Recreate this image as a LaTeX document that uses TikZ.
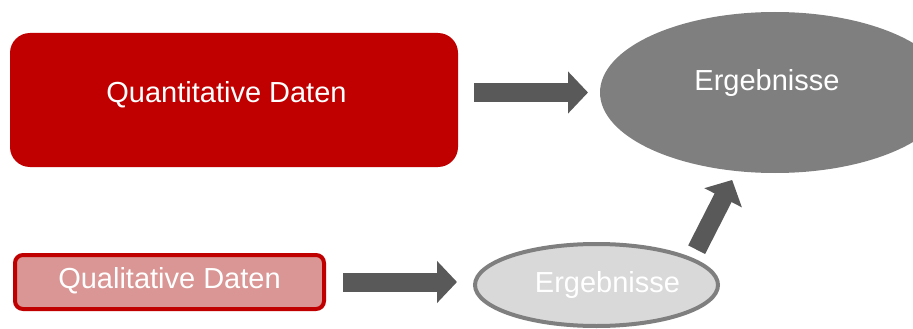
\documentclass[tikz,border=0pt]{standalone}
\usepackage{fontspec}
\setmainfont{Liberation Sans}
\usetikzlibrary{arrows.meta,shapes.geometric}
\definecolor{datred}{HTML}{C00000}
\definecolor{datpink}{HTML}{D99694}
\definecolor{resgray}{HTML}{7F7F7F}
\definecolor{reslight}{HTML}{D9D9D9}
\definecolor{arrgray}{HTML}{595959}
\tikzset{
  every node/.style={outer sep=0pt,inner sep=2pt,text=white,
    font=\fontsize{29}{34}\selectfont,text height=21pt},
  fat/.style={draw=arrgray,line width=19pt,
    -{Triangle[length=20pt,width=41pt]}},
}
\begin{document}
\begin{tikzpicture}[x=1pt,y=-1pt]
\clip (0,0) rectangle (913,329);
\path (234,100) node[fill=datred,rounded corners=20pt,minimum width=448pt,
  minimum height=134pt,text depth=16pt] (quant) {Quantitative Daten\hspace*{15pt}};
\path (169.5,282) node[fill=datpink,draw=datred,line width=4pt,rounded corners=8pt,
  minimum width=309pt,minimum height=54pt,text depth=9pt] (qual) {Qualitative Daten};
\path (775,92.5) node[ellipse,fill=resgray,inner sep=0pt,minimum width=350pt,
  minimum height=161pt,text depth=24pt] (res) {Ergebnisse\hspace*{16pt}};
\path (596.5,285) node[ellipse,fill=reslight,draw=resgray,line width=4pt,inner sep=0pt,
  minimum width=243pt,minimum height=82pt,text depth=6pt] (resq) {\hspace*{22pt}Ergebnisse};
\draw[fat,shorten <=16pt,shorten >=12pt] (quant.east |- res.west) -- (res.west);
\draw[fat,shorten <=19pt,shorten >=18pt] (qual.east) -- (qual.east -| resq.west);
\draw[fat,shorten <=11pt,shorten >=10pt] (resq.15) -- (res.244);
\end{tikzpicture}
\end{document}
